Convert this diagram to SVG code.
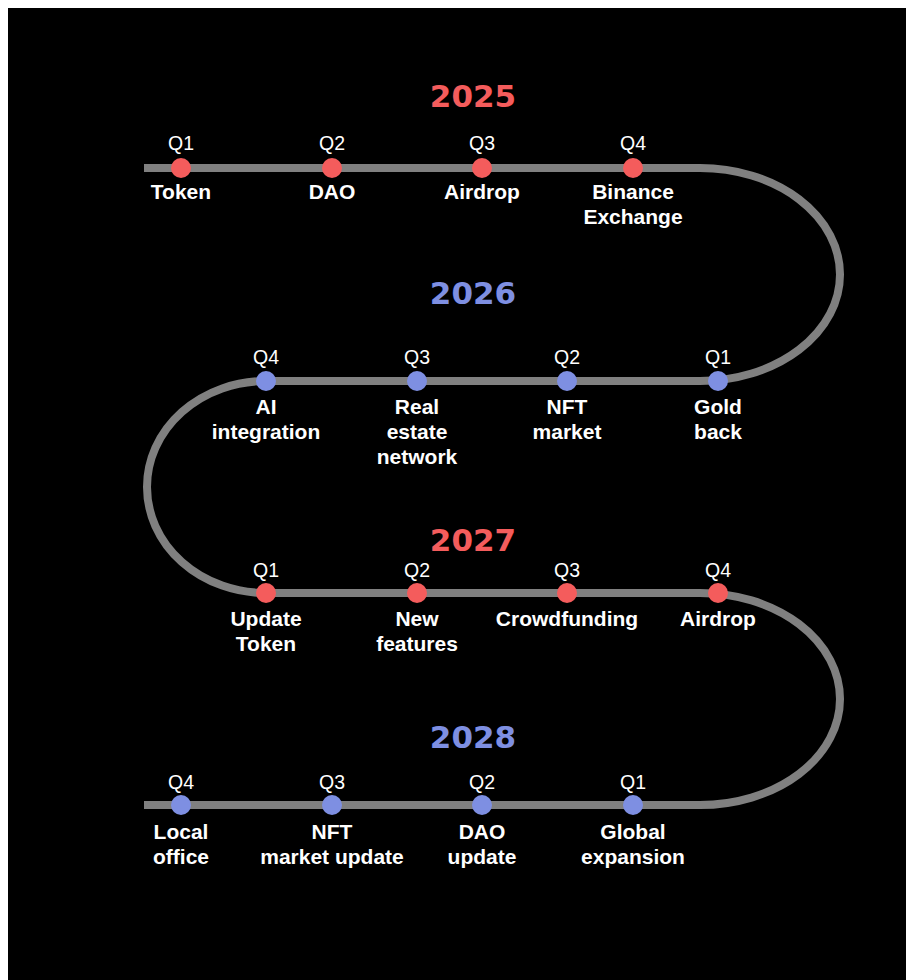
<svg xmlns="http://www.w3.org/2000/svg" width="906" height="980" viewBox="0 0 906 980">
  <style>
    .q { font-family: "Liberation Sans", Arial, sans-serif; font-size: 19.5px; fill: #ffffff; text-anchor: middle; }
    .lbl { font-family: "Liberation Sans", Arial, sans-serif; font-size: 21px; font-weight: bold; fill: #ffffff; text-anchor: middle; }
    .year { font-family: "DejaVu Sans", Verdana, sans-serif; font-size: 31px; font-weight: bold; text-anchor: middle; }
    .red { fill: #f45c5c; }
    .blue { fill: #7e8fe2; }
    .track { fill: none; stroke: #808080; stroke-width: 8; }
  </style>
  <rect x="0" y="0" width="906" height="980" fill="#ffffff"/>
  <rect x="8" y="8" width="898" height="972" fill="#000000"/>

  <!-- serpentine track -->
  <g id="connectors">
    <path class="track" d="M144,168 H700 A140,106.5 0 0 1 700,381 H266 A119,106 0 0 0 266,593 H700 A140,106 0 0 1 700,805 H144"/>
  </g>

  <!-- year headings -->
  <g id="years">
    <text class="year red" x="473" y="107">2025</text>
    <text class="year blue" x="473" y="304">2026</text>
    <text class="year red" x="473" y="551">2027</text>
    <text class="year blue" x="473" y="748">2028</text>
  </g>

  <!-- 2025 -->
  <g id="y2025-q1"><circle class="red" cx="181" cy="168" r="10"/><text class="q" x="181" y="150">Q1</text><text class="lbl" x="181" y="199">Token</text></g>
  <g id="y2025-q2"><circle class="red" cx="332" cy="168" r="10"/><text class="q" x="332" y="150">Q2</text><text class="lbl" x="332" y="199">DAO</text></g>
  <g id="y2025-q3"><circle class="red" cx="482" cy="168" r="10"/><text class="q" x="482" y="150">Q3</text><text class="lbl" x="482" y="199">Airdrop</text></g>
  <g id="y2025-q4"><circle class="red" cx="633" cy="168" r="10"/><text class="q" x="633" y="150">Q4</text><text class="lbl" x="633" y="199">Binance</text><text class="lbl" x="633" y="224">Exchange</text></g>

  <!-- 2026 -->
  <g id="y2026-q1"><circle class="blue" cx="718" cy="381" r="10"/><text class="q" x="718" y="364">Q1</text><text class="lbl" x="718" y="414">Gold</text><text class="lbl" x="718" y="439">back</text></g>
  <g id="y2026-q2"><circle class="blue" cx="567" cy="381" r="10"/><text class="q" x="567" y="364">Q2</text><text class="lbl" x="567" y="414">NFT</text><text class="lbl" x="567" y="439">market</text></g>
  <g id="y2026-q3"><circle class="blue" cx="417" cy="381" r="10"/><text class="q" x="417" y="364">Q3</text><text class="lbl" x="417" y="414">Real</text><text class="lbl" x="417" y="439">estate</text><text class="lbl" x="417" y="464">network</text></g>
  <g id="y2026-q4"><circle class="blue" cx="266" cy="381" r="10"/><text class="q" x="266" y="364">Q4</text><text class="lbl" x="266" y="414">AI</text><text class="lbl" x="266" y="439">integration</text></g>

  <!-- 2027 -->
  <g id="y2027-q1"><circle class="red" cx="266" cy="593" r="10"/><text class="q" x="266" y="577">Q1</text><text class="lbl" x="266" y="626">Update</text><text class="lbl" x="266" y="651">Token</text></g>
  <g id="y2027-q2"><circle class="red" cx="417" cy="593" r="10"/><text class="q" x="417" y="577">Q2</text><text class="lbl" x="417" y="626">New</text><text class="lbl" x="417" y="651">features</text></g>
  <g id="y2027-q3"><circle class="red" cx="567" cy="593" r="10"/><text class="q" x="567" y="577">Q3</text><text class="lbl" x="567" y="626">Crowdfunding</text></g>
  <g id="y2027-q4"><circle class="red" cx="718" cy="593" r="10"/><text class="q" x="718" y="577">Q4</text><text class="lbl" x="718" y="626">Airdrop</text></g>

  <!-- 2028 -->
  <g id="y2028-q1"><circle class="blue" cx="633" cy="805" r="10"/><text class="q" x="633" y="789">Q1</text><text class="lbl" x="633" y="839">Global</text><text class="lbl" x="633" y="864">expansion</text></g>
  <g id="y2028-q2"><circle class="blue" cx="482" cy="805" r="10"/><text class="q" x="482" y="789">Q2</text><text class="lbl" x="482" y="839">DAO</text><text class="lbl" x="482" y="864">update</text></g>
  <g id="y2028-q3"><circle class="blue" cx="332" cy="805" r="10"/><text class="q" x="332" y="789">Q3</text><text class="lbl" x="332" y="839">NFT</text><text class="lbl" x="332" y="864">market update</text></g>
  <g id="y2028-q4"><circle class="blue" cx="181" cy="805" r="10"/><text class="q" x="181" y="789">Q4</text><text class="lbl" x="181" y="839">Local</text><text class="lbl" x="181" y="864">office</text></g>
</svg>
